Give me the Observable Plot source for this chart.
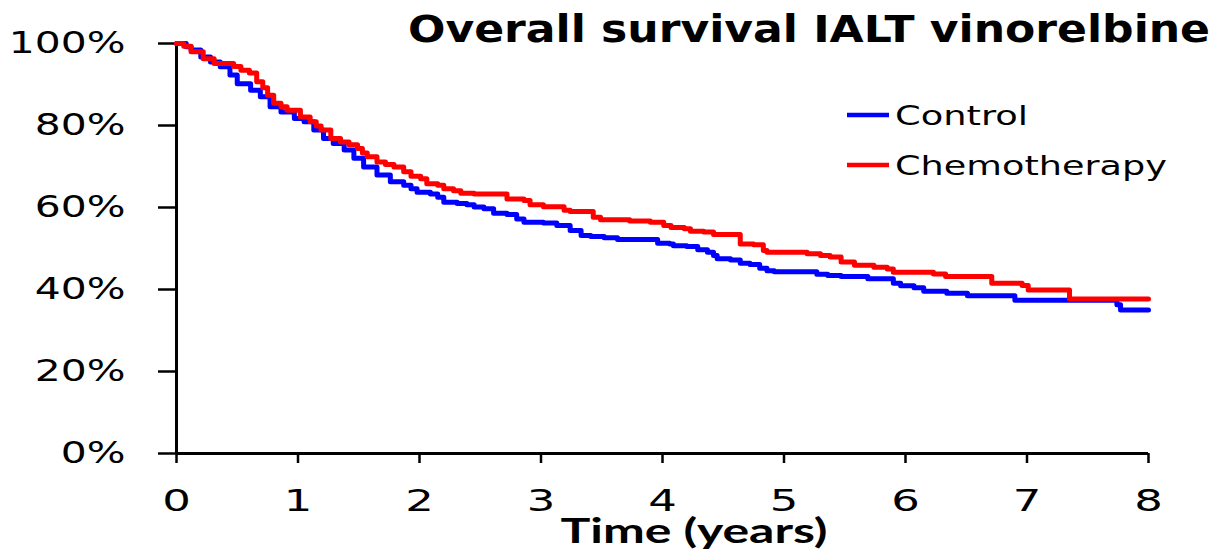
<!DOCTYPE html>
<html>
<head>
<meta charset="utf-8">
<script src="https://cdn.jsdelivr.net/npm/d3@7"></script>
<script src="https://cdn.jsdelivr.net/npm/@observablehq/plot@0.6"></script>
<style>
  html, body { margin: 0; padding: 0; background: #fff; }
  svg { display: block; }
</style>
</head>
<body>
<div id="chart"></div>
<script>
// ---- Data ----
const titleText = "Overall survival IALT vinorelbine";
const xLabel = "Time (years)";
const seriesNames = ["Control", "Chemotherapy"];
const seriesColors = ["#0000ff", "#ff0000"];
const xTicks = [0, 1, 2, 3, 4, 5, 6, 7, 8];
const yTicks = [0, 20, 40, 60, 80, 100];

// Control arm: Kaplan-Meier steps (years, % surviving)
const controlTime = [0, 0.08, 0.12, 0.2, 0.28, 0.36, 0.44, 0.5, 0.61, 0.69, 0.77, 0.86, 0.97, 1.05, 1.13, 1.21, 1.29, 1.38, 1.46, 1.54, 1.65, 1.76, 1.87, 1.93, 1.98, 2.09, 2.15, 2.2, 2.31, 2.39, 2.45, 2.53, 2.61, 2.72, 2.8, 2.86, 3.02, 3.13, 3.24, 3.33, 3.41, 3.52, 3.63, 3.96, 4.06, 4.09, 4.2, 4.29, 4.37, 4.42, 4.45, 4.56, 4.64, 4.72, 4.8, 4.86, 4.92, 5.27, 5.36, 5.47, 5.69, 5.9, 5.96, 6.07, 6.15, 6.34, 6.51, 6.9, 7.74, 7.77, 8];
const controlSurvival = [100, 99.2, 98.4, 96.7, 95.5, 94.3, 92.3, 90.2, 88.6, 87.0, 84.6, 83.3, 81.7, 80.9, 78.9, 76.8, 75.6, 74.0, 72.0, 69.9, 67.9, 66.3, 65.4, 64.6, 63.7, 63.3, 62.5, 61.3, 61.0, 60.7, 60.1, 59.7, 58.6, 58.3, 57.2, 56.4, 56.2, 55.6, 54.4, 53.2, 52.9, 52.6, 52.2, 51.3, 51.1, 50.7, 50.5, 49.7, 49.1, 48.3, 47.5, 47.2, 46.4, 46.1, 45.2, 44.6, 44.3, 43.7, 43.4, 43.2, 42.6, 41.5, 40.9, 40.4, 39.6, 39.1, 38.5, 37.4, 36.3, 35.0, 35.0];

// Chemotherapy arm
const chemoTime = [0, 0.06, 0.12, 0.22, 0.31, 0.47, 0.53, 0.6, 0.66, 0.71, 0.75, 0.8, 0.86, 0.91, 1.02, 1.1, 1.15, 1.19, 1.27, 1.35, 1.42, 1.49, 1.53, 1.57, 1.65, 1.72, 1.79, 1.87, 1.93, 2.01, 2.06, 2.15, 2.2, 2.28, 2.34, 2.45, 2.72, 2.86, 2.91, 3.02, 3.19, 3.24, 3.43, 3.49, 3.73, 3.9, 4.01, 4.07, 4.18, 4.23, 4.34, 4.42, 4.64, 4.75, 4.83, 4.86, 5.19, 5.3, 5.38, 5.47, 5.58, 5.74, 5.85, 5.9, 6.23, 6.33, 6.71, 6.96, 7.01, 7.35, 8];
const chemoSurvival = [100, 99.3, 98.0, 96.3, 95.1, 94.4, 93.5, 92.8, 90.7, 89.2, 87.4, 85.4, 84.6, 83.7, 82.1, 80.9, 79.9, 78.9, 76.8, 76.0, 75.3, 74.4, 73.3, 72.4, 71.1, 70.5, 69.9, 68.7, 67.6, 67.0, 65.8, 65.4, 64.6, 64.1, 63.5, 63.3, 62.1, 61.7, 60.7, 60.2, 59.3, 59.0, 57.6, 57.0, 56.7, 56.4, 55.6, 55.1, 54.8, 54.2, 54.0, 53.4, 51.1, 50.9, 49.5, 49.1, 48.7, 48.3, 47.9, 46.7, 45.9, 45.4, 45.0, 44.2, 43.8, 43.2, 41.5, 41.0, 39.9, 37.7, 37.7];

// ---- Table for Plot ----
const rows = [
  ...controlTime.map((t, i) => ({series: seriesNames[0], t, s: controlSurvival[i]})),
  ...chemoTime.map((t, i) => ({series: seriesNames[1], t, s: chemoSurvival[i]}))
];

const plot = Plot.plot({
  width: 1228,
  height: 558,
  marginLeft: 176,
  marginRight: 80,
  marginTop: 43,
  marginBottom: 105,
  style: {fontFamily: "DejaVu Sans", color: "#000", background: "#fff", overflow: "visible"},
  x: {domain: [0, 8]},
  y: {domain: [0, 100]},
  color: {domain: seriesNames, range: seriesColors},
  marks: [
    Plot.axisY({ticks: yTicks, tickFormat: d => d + "%", tickSize: 18, tickPadding: 33, fontSize: 30, strokeWidth: 2.5, label: null}),
    Plot.axisX({ticks: xTicks, tickFormat: d => String(d), tickSize: 10, tickPadding: 25, fontSize: 31, strokeWidth: 2.5, label: null}),
    Plot.ruleX([0], {stroke: "#000", strokeWidth: 3}),
    Plot.ruleY([0], {stroke: "#000", strokeWidth: 3}),
    Plot.line(rows, {x: "t", y: "s", z: "series", stroke: "series", strokeWidth: 5, curve: "step-after"})
  ]
});

document.getElementById("chart").appendChild(plot);
const svg = d3.select(plot);

function stretchTo(el, target) {
  el.setAttribute("textLength", target);
  el.setAttribute("lengthAdjust", "spacingAndGlyphs");
}
function stretchBy(el, factor) {
  const w = el.getComputedTextLength();
  stretchTo(el, w * factor);
}

svg.selectAll('g[aria-label="y-axis tick label"] text').each(function() { stretchBy(this, 1.36); });
svg.selectAll('g[aria-label="x-axis tick label"] text').each(function() { stretchBy(this, 1.45); });

// Title
const title = svg.append("text")
  .attr("x", 408).attr("y", 42)
  .attr("text-anchor", "start")
  .attr("font-family", "DejaVu Sans").attr("font-weight", "bold").attr("font-size", 37)
  .attr("fill", "#000")
  .text(titleText);
stretchTo(title.node(), 802);

// X axis label
const xl = svg.append("text")
  .attr("x", 694).attr("y", 543)
  .attr("text-anchor", "middle")
  .attr("font-family", "Lato").attr("font-weight", "bold").attr("font-size", 34)
  .attr("fill", "#000")
  .text(xLabel);
stretchTo(xl.node(), 267);

// Legend
const legendWidths = [133, 272];
const legend = svg.append("g").attr("text-anchor", "start");
seriesNames.forEach((name, i) => {
  const cy = 115 + i * 50;
  legend.append("line")
    .attr("x1", 847).attr("x2", 889).attr("y1", cy).attr("y2", cy)
    .attr("stroke", seriesColors[i]).attr("stroke-width", 4.5);
  const t = legend.append("text")
    .attr("x", 895).attr("y", cy + 9.5)
    .attr("text-anchor", "start")
    .attr("font-family", "DejaVu Sans").attr("font-size", 27)
    .attr("fill", "#000")
    .text(name);
  stretchTo(t.node(), legendWidths[i]);
});
</script>
</body>
</html>
